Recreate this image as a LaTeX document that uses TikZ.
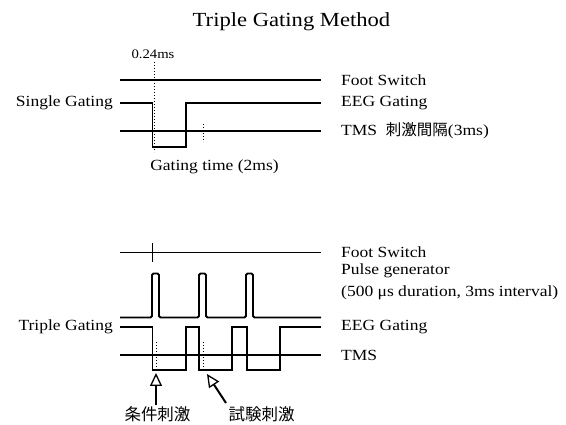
\documentclass[tikz,border=0pt]{standalone}
\usepackage{fontspec}
\setmainfont{Liberation Serif}[FakeStretch=1.13]
\newfontfamily\cjk{Noto Sans CJK JP}
\usetikzlibrary{arrows.meta}
\tikzset{
  lbl/.style={inner sep=0pt, font=\fontsize{15.5}{18}\selectfont},
  rlbl/.style={lbl, anchor=west},
  cjklbl/.style={inner sep=0pt, font=\cjk\fontsize{16.5}{19}\selectfont},
  sig/.style={line width=1.8pt, line join=miter},
  pulse/.style={line width=1.8pt, rounded corners=1.5pt},
  guide/.style={line width=1pt, dotted},
  tick/.style={line width=1.4pt},
  hollowarrow/.style={line width=2pt, -{Triangle[open, length=13pt, width=12pt, line width=1.3pt]}},
}
\begin{document}
\begin{tikzpicture}[x=1pt,y=-1pt]
\useasboundingbox (0,0) rectangle (566,425);
% title
\node[inner sep=0pt, font=\fontsize{20}{24}\selectfont] (title) at (291.5,22) {Triple Gating Method};

% ---------- upper: single gating ----------
\node[inner sep=0pt, font=\fontsize{13}{15}\selectfont] (t024) at (153,54) {0.24ms};
\draw[guide] (154,62) -- (154,152);
\draw[sig] (120,80) -- (321,80);
\draw[sig] (120,103) -- (152.5,103) -- (152.5,147) -- (186,147) -- (186,103) -- (321,103);
\draw[sig] (120,131) -- (321,131);
\draw[guide] (203,124) -- (203,142);
\node[lbl, anchor=east] (single) at (113,103) {Single Gating};
\node[lbl] (gtime) at (214.5,167) {Gating time (2ms)};
\node[rlbl] (fs1) at (341,80) {Foot Switch};
\node[rlbl] (eeg1) at (341,103) {EEG Gating};
\node[rlbl] (tms1) at (341,131) {TMS\ \ {\cjk 刺激間隔}(3ms)};

% ---------- lower: triple gating ----------
\draw[sig] (120,252.5) -- (321,252.5);
\draw[tick] (152.5,243) -- (152.5,262);
\draw[pulse] (120,317.5) -- (152,317.5) -- (152,273.5) -- (159,273.5) -- (159,317.5)
  -- (199,317.5) -- (199,273.5) -- (206,273.5) -- (206,317.5)
  -- (246,317.5) -- (246,273.5) -- (253,273.5) -- (253,317.5) -- (321,317.5);
\draw[sig] (120,327) -- (152.5,327) -- (152.5,370) -- (186,370) -- (186,327)
  -- (199,327) -- (199,370) -- (232,370) -- (232,327)
  -- (247,327) -- (247,370) -- (280,370) -- (280,327) -- (321,327);
\draw[sig] (120,355) -- (321,355);
\draw[guide] (156,342) -- (156,370);
\draw[guide] (203,342) -- (203,370);
\node[lbl, anchor=east] (triple) at (113,327) {Triple Gating};
\node[rlbl] (fs2) at (341,252.5) {Foot Switch};
\node[rlbl] (pg) at (341,271) {Pulse generator};
\node[rlbl] (pgd) at (341,293) {(500 μs duration, 3ms interval)};
\node[rlbl] (eeg2) at (341,327) {EEG Gating};
\node[rlbl] (tms2) at (341,355) {TMS};

% arrows and Japanese labels
\node[cjklbl] (cond) at (157.5,414.5) {条件刺激};
\node[cjklbl] (test) at (261.5,414.5) {試験刺激};
\coordinate (a1tip) at (156,373);
\coordinate (a1tail) at (156,405);
\coordinate (a2tip) at (207,374);
\coordinate (a2tail) at (226,403);
\draw[hollowarrow] (a1tail) -- (a1tip);
\draw[hollowarrow] (a2tail) -- (a2tip);
\end{tikzpicture}
\end{document}
